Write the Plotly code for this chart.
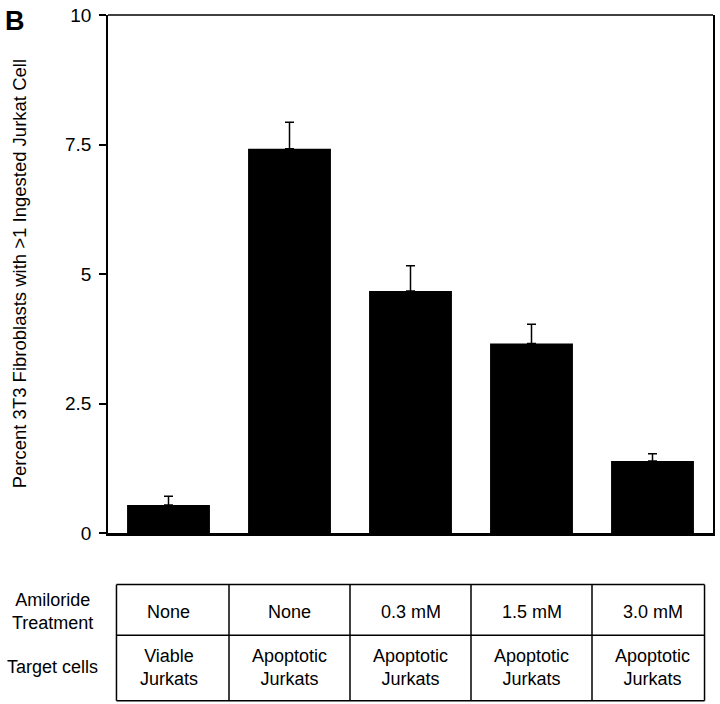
import plotly.graph_objects as go

# ---- data ----
categories = ["Viable, None", "Apoptotic, None", "Apoptotic, 0.3 mM", "Apoptotic, 1.5 mM", "Apoptotic, 3.0 mM"]
values = [0.54, 7.42, 4.67, 3.66, 1.39]
errors = [0.17, 0.51, 0.49, 0.37, 0.14]
treatment_labels = ["None", "None", "0.3 mM", "1.5 mM", "3.0 mM"]
target_labels = ["Viable<br>Jurkats", "Apoptotic<br>Jurkats", "Apoptotic<br>Jurkats",
                 "Apoptotic<br>Jurkats", "Apoptotic<br>Jurkats"]
row_labels = ["Amiloride<br>Treatment", "Target cells"]
y_tickvals = [0, 2.5, 5, 7.5, 10]
y_ticktext = ["0", "2.5", "5", "7.5", "10"]
y_title = "Percent 3T3 Fibroblasts with >1 Ingested Jurkat Cell"
panel_label = "B"

# ---- layout geometry (reference pixel coords) ----
W, H = 720, 704
plot_left, plot_right, plot_top, plot_bottom = 108, 715, 11, 533
L = plot_left
R = W - plot_right
T = plot_top
B = H - plot_bottom
pw, ph = W - L - R, H - T - B
FONT = "Liberation Sans, Arial, Helvetica, sans-serif"
FS = 18


def pyp(p):  # reference pixel y -> paper y
    return (plot_bottom - p) / ph


def pxp(p):  # reference pixel x -> paper x
    return (p - plot_left) / pw


xpos = list(range(len(categories)))

fig = go.Figure()
fig.add_trace(go.Bar(
    x=xpos, y=values, width=0.685,
    marker=dict(color="black", line=dict(width=0)),
    error_y=dict(type="data", array=errors, arrayminus=[0] * len(errors), symmetric=False,
                 color="black", thickness=1.5, width=4.5),
    showlegend=False,
))

shapes = []
shapes.append(dict(type="line", xref="paper", yref="paper", x0=0, x1=1, y0=1, y1=1,
                   line=dict(color="black", width=1.5)))

# table
t_top, t_mid, t_bot = 585, 636, 702
t_left, t_right = -0.43, 4.43
lw = dict(color="black", width=1.5)
for yy in (t_top, t_mid, t_bot):
    shapes.append(dict(type="line", xref="x", yref="paper", x0=t_left, x1=t_right,
                       y0=pyp(yy), y1=pyp(yy), line=lw))
for xx in [t_left] + [i + 0.5 for i in range(len(categories) - 1)] + [t_right]:
    shapes.append(dict(type="line", xref="x", yref="paper", x0=xx, x1=xx,
                       y0=pyp(t_top), y1=pyp(t_bot), line=lw))

tfont = dict(size=FS, color="black", family=FONT)
annotations = []
for i, (tr, tg) in enumerate(zip(treatment_labels, target_labels)):
    annotations.append(dict(x=i, y=pyp(613), xref="x", yref="paper", text=tr, showarrow=False,
                            xanchor="center", yanchor="middle", font=tfont))
    annotations.append(dict(x=i, y=pyp(669), xref="x", yref="paper", text=tg, showarrow=False,
                            xanchor="center", yanchor="middle", font=tfont))
annotations.append(dict(x=pxp(52), y=pyp(612), xref="paper", yref="paper", text=row_labels[0],
                        showarrow=False, xanchor="center", yanchor="middle", font=tfont))
annotations.append(dict(x=pxp(52), y=pyp(668), xref="paper", yref="paper", text=row_labels[1],
                        showarrow=False, xanchor="center", yanchor="middle", font=tfont))
annotations.append(dict(x=pxp(19), y=pyp(272), xref="paper", yref="paper", text=y_title,
                        textangle=-90, showarrow=False, xanchor="center", yanchor="middle",
                        font=dict(size=18.5, color="black", family=FONT)))
annotations.append(dict(x=pxp(3), y=pyp(0), xref="paper", yref="paper", text="<b>" + panel_label + "</b>",
                        showarrow=False, xanchor="left", yanchor="top",
                        font=dict(size=27, color="black", family=FONT)))

fig.update_layout(
    width=W, height=H, autosize=False,
    margin=dict(l=L, r=R, t=T, b=B, pad=0),
    paper_bgcolor="white", plot_bgcolor="white",
    font=dict(family=FONT, color="black"),
    xaxis=dict(range=[-0.5, 4.5], showticklabels=False, ticks="", showgrid=False, zeroline=False,
               showline=True, linecolor="black", linewidth=3, fixedrange=True),
    yaxis=dict(range=[0, 10], tickvals=y_tickvals, ticktext=y_ticktext, ticks="outside", ticklen=7,
               tickwidth=1.5, tickcolor="black", tickfont=dict(size=19, color="black", family=FONT),
               showgrid=False, zeroline=False, showline=True, linecolor="black", linewidth=1.5,
               mirror=True, ticklabelstandoff=4, ticklabeloverflow="allow"),
    shapes=shapes, annotations=annotations,
)

fig.write_html("out.html", config={"displayModeBar": False},
               post_script="document.body.style.margin='0px';")
